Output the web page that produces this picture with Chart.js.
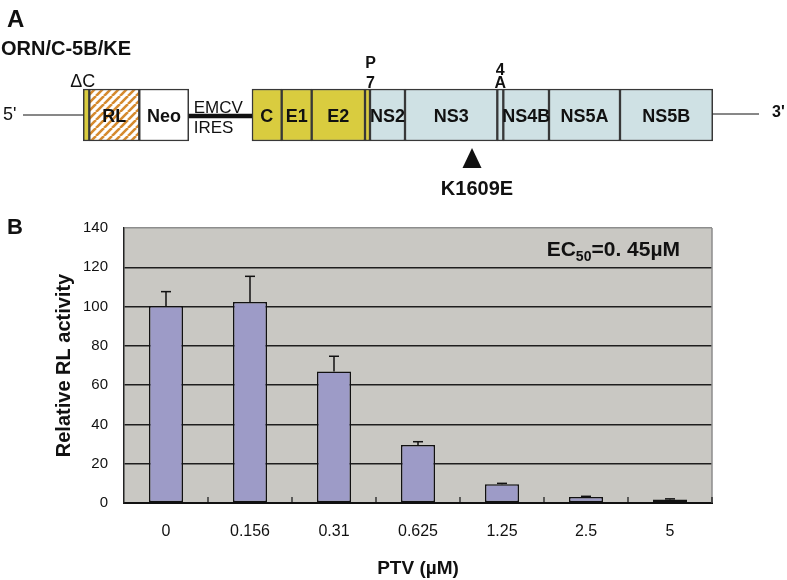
<!DOCTYPE html>
<html>
<head>
<meta charset="utf-8">
<script src="https://cdn.jsdelivr.net/npm/chart.js@4.4.1/dist/chart.umd.min.js"></script>
<style>
body{margin:0;background:#fff;width:787px;height:580px;overflow:hidden;position:relative;font-family:'Liberation Sans',Arial,sans-serif;}
canvas{position:absolute;left:0;}
#genome{top:0}
#bars{top:200px}
.lbl{position:absolute;font-weight:bold;color:#111;white-space:nowrap;}
</style>
</head>
<body>
<canvas id="genome" width="787" height="230"></canvas>
<canvas id="bars" width="787" height="380"></canvas>
<div class="lbl" style="left:7px;top:7px;font-size:24px;line-height:24px">A</div>
<div class="lbl" style="left:1px;top:38px;font-size:20px;line-height:20px">ORN/C-5B/KE</div>
<div class="lbl" style="left:7px;top:216px;font-size:22px;line-height:22px">B</div>
<script>
/*----- PANEL A: replicon -----*/
var segNames = ["5'", "ΔC", "RL", "Neo", "EMCV IRES", "C", "E1", "E2", "P7", "NS2", "NS3", "4A", "NS4B", "NS5A", "NS5B", "3'"];
var segLengths = [83.3, 6, 50, 49.4, 63.3, 29.7, 30, 53.3, 5, 35, 92.3, 6, 45.7, 71, 92.7, 46.3];
var mutation = "K1609E";
var mutationAt = 0.726; // fraccion dentro de NS3

/*----- PANEL B: datos -----*/
var doses = ["0", "0.156", "0.31", "0.625", "1.25", "2.5", "5"];
var activity = [100.3, 102.3, 66.9, 29.5, 9.5, 3.0, 1.8];
var activitySD = [7.3, 13.1, 7.8, 1.7, 0.5, 0.4, 0.3];

var FONT = "'Liberation Sans', Arial, sans-serif";
Chart.defaults.font.family = FONT;

var hatch = (function () {
  var c = document.createElement('canvas');
  c.width = 8; c.height = 8;
  var g = c.getContext('2d');
  g.fillStyle = '#fff'; g.fillRect(0, 0, 8, 8);
  g.strokeStyle = '#d58a2e'; g.lineWidth = 2.6;
  g.beginPath();
  for (var k = -1; k <= 1; k++) { g.moveTo(k * 8, 8); g.lineTo(k * 8 + 8, 0); }
  g.stroke();
  return g.createPattern(c, 'repeat');
})();

function colorFor(name) {
  if (name == 'RL') return hatch;
  if (name == 'Neo') return '#ffffff';
  if (['ΔC', 'C', 'E1', 'E2', 'P7'].indexOf(name) >= 0) return '#d9cc3f';
  return '#cfe1e4';
}
function isSpacer(i) { return i == 0 || i == segNames.length - 1 || segNames[i] == 'EMCV IRES'; }

var genomeSets = segNames.map(function (name, i) {
  return {
    label: name,
    data: [segLengths[i]],
    backgroundColor: isSpacer(i) ? 'rgba(0,0,0,0)' : colorFor(name),
    borderColor: '#383838',
    borderWidth: isSpacer(i) ? 0 : 1.5,
    borderSkipped: false,
    barThickness: 52
  };
});

function line(ctx, x1, y1, x2, y2) { ctx.beginPath(); ctx.moveTo(x1, y1); ctx.lineTo(x2, y2); ctx.stroke(); }

var genomeText = {
  id: 'genomeText',
  afterDatasetsDraw: function (chart) {
    var ctx = chart.ctx;
    ctx.save();
    ctx.fillStyle = '#111'; ctx.strokeStyle = '#111';
    ctx.textBaseline = 'alphabetic';
    chart.data.datasets.forEach(function (ds, i) {
      var el = chart.getDatasetMeta(i).data[0];
      var l = Math.min(el.x, el.base), r = Math.max(el.x, el.base);
      var cx = (l + r) / 2, y = el.y, top = y - el.height / 2, bot = y + el.height / 2;
      var name = ds.label;
      if (i == 0) {
        ctx.lineWidth = 1; line(ctx, l + 23, y, r, y);
        ctx.font = '18px ' + FONT; ctx.textAlign = 'left';
        ctx.fillText(name, l + 3, y + 5);
      } else if (i == segNames.length - 1) {
        ctx.lineWidth = 1; line(ctx, l, y - 1, r, y - 1);
        ctx.font = 'bold 16px ' + FONT; ctx.textAlign = 'left';
        ctx.fillText(name, r + 13, y + 2);
      } else if (name == 'EMCV IRES') {
        ctx.lineWidth = 4.5; line(ctx, l, y + 1, r, y + 1);
        ctx.font = '17px ' + FONT; ctx.textAlign = 'left';
        var p = name.split(' ');
        ctx.fillText(p[0], l + 5, y - 2);
        ctx.fillText(p[1], l + 5, y + 18);
      } else if (name == 'ΔC') {
        ctx.font = '18px ' + FONT; ctx.textAlign = 'right';
        ctx.fillText(name, r + 6, top - 2);
      } else if (name == 'P7') {
        ctx.font = 'bold 16px ' + FONT; ctx.textAlign = 'center';
        ctx.fillText('P', cx + 3, top - 21);
        ctx.fillText('7', cx + 3, top - 1);
      } else if (name == '4A') {
        ctx.font = 'bold 16px ' + FONT; ctx.textAlign = 'center';
        ctx.fillText('4', cx, top - 14);
        ctx.fillText('A', cx, top - 1);
      } else {
        ctx.font = 'bold 18px ' + FONT; ctx.textAlign = 'center';
        ctx.fillText(name, cx, y + 6.5);
      }
      if (name == 'NS3') {
        var mx = l + mutationAt * (r - l);
        ctx.beginPath();
        ctx.moveTo(mx, bot + 7); ctx.lineTo(mx + 9.5, bot + 27); ctx.lineTo(mx - 9.5, bot + 27);
        ctx.closePath(); ctx.fill();
        ctx.font = 'bold 20px ' + FONT; ctx.textAlign = 'center';
        ctx.fillText(mutation, mx + 5, bot + 54);
      }
    });
    ctx.restore();
  }
};

new Chart(document.getElementById('genome'), {
  type: 'bar',
  data: { labels: ['ORN/C-5B/KE'], datasets: genomeSets },
  options: {
    indexAxis: 'y', responsive: false, animation: false,
    layout: { padding: 0 },
    plugins: { legend: { display: false }, tooltip: { enabled: false } },
    scales: {
      x: { stacked: true, min: 0, max: 787, display: false },
      y: { stacked: true, display: false }
    }
  },
  plugins: [genomeText]
});

/*----- PANEL B: grafico -----*/
var plotBg = {
  id: 'plotBg',
  beforeDraw: function (chart) {
    var a = chart.chartArea, ctx = chart.ctx;
    ctx.save();
    ctx.fillStyle = '#c9c8c3';
    ctx.fillRect(a.left, a.top, a.right - a.left, a.bottom - a.top);
    ctx.restore();
  },
  beforeDatasetsDraw: function (chart) {
    var a = chart.chartArea, ctx = chart.ctx, xs = chart.scales.x;
    ctx.save();
    ctx.strokeStyle = '#8d8d8d'; ctx.lineWidth = 1.5;
    line(ctx, a.right, a.top, a.right, a.bottom);
    ctx.strokeStyle = '#111'; ctx.lineWidth = 1.2;
    var step = (a.right - a.left) / doses.length;
    for (var i = 1; i <= doses.length; i++) {
      var x = xs.getPixelForValue(i - 1) + step / 2;
      line(ctx, x, a.bottom, x, a.bottom - 6);
    }
    ctx.restore();
  }
};

var errorBars = {
  id: 'errorBars',
  afterDatasetsDraw: function (chart) {
    var ctx = chart.ctx, ys = chart.scales.y;
    var meta = chart.getDatasetMeta(0);
    ctx.save();
    ctx.strokeStyle = '#111'; ctx.lineWidth = 1.5;
    meta.data.forEach(function (el, i) {
      var yt = ys.getPixelForValue(activity[i] + activitySD[i]);
      line(ctx, el.x, el.y, el.x, yt);
      line(ctx, el.x - 5, yt, el.x + 5, yt);
    });
    ctx.restore();
  }
};

var ecLabel = {
  id: 'ecLabel',
  afterDraw: function (chart) {
    var ctx = chart.ctx, a = chart.chartArea;
    var big = 'bold 21px ' + FONT, small = 'bold 14px ' + FONT;
    var parts = [['EC', big, 0], ['50', small, 5], ['=0. 45\u00B5M', big, 0]];
    ctx.save();
    var w = 0;
    parts.forEach(function (p) { ctx.font = p[1]; w += ctx.measureText(p[0]).width; });
    var x = a.right - 32 - w, base = a.top + 28;
    ctx.fillStyle = '#111'; ctx.textAlign = 'left'; ctx.textBaseline = 'alphabetic';
    parts.forEach(function (p) {
      ctx.font = p[1];
      ctx.fillText(p[0], x, base + p[2]);
      x += ctx.measureText(p[0]).width;
    });
    ctx.restore();
  }
};

new Chart(document.getElementById('bars'), {
  type: 'bar',
  data: {
    labels: doses,
    datasets: [{
      data: activity,
      backgroundColor: '#9d9bc7',
      borderColor: '#111',
      borderWidth: 1.5,
      borderSkipped: false,
      categoryPercentage: 1,
      barPercentage: 0.405
    }]
  },
  options: {
    responsive: false, animation: false,
    layout: { padding: { top: 28, right: 75, left: 0, bottom: 0 } },
    plugins: { legend: { display: false }, tooltip: { enabled: false } },
    scales: {
      x: {
        grid: { display: false },
        border: { display: true, color: '#111', width: 2 },
        ticks: { color: '#111', font: { size: 16 }, padding: 11 },
        title: { display: true, text: 'PTV (\u00B5M)', color: '#111', font: { size: 19, weight: 'bold' }, padding: 0 },
        afterFit: function (s) { s.height = 77; }
      },
      y: {
        min: 0, max: 140,
        ticks: { stepSize: 20, color: '#111', font: { size: 15 }, padding: 16 },
        grid: {
          drawTicks: false, lineWidth: 1.5,
          color: function (c) { return c.tick && c.tick.value == 140 ? '#8d8d8d' : '#1e1e1e'; }
        },
        border: { display: true, color: '#222', width: 1.5 },
        title: { display: true, text: 'Relative RL activity', color: '#111', font: { size: 20, weight: 'bold' }, padding: { top: 52 } },
        afterFit: function (s) { s.width = 124; }
      }
    }
  },
  plugins: [plotBg, errorBars, ecLabel]
});
</script>
</body>
</html>
